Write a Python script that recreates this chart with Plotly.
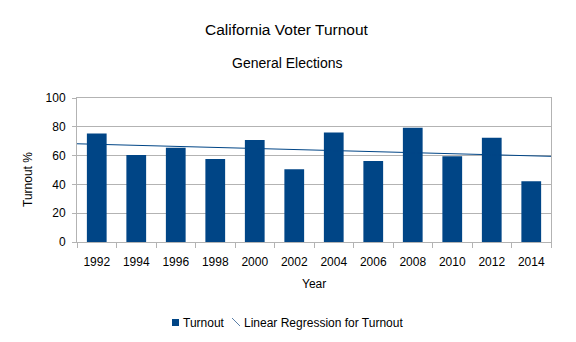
import numpy as np
import plotly.graph_objects as go

years = ["1992", "1994", "1996", "1998", "2000", "2002", "2004", "2006", "2008", "2010", "2012", "2014"]
turnout = [75.3, 60.5, 65.5, 57.6, 70.9, 50.6, 76.0, 56.2, 79.4, 59.6, 72.4, 42.2]
y_ticks = [0, 20, 40, 60, 80, 100]
series_names = ["Turnout", "Linear Regression for Turnout"]

idx = np.arange(len(years))
slope, intercept = np.polyfit(idx + 1, turnout, 1)
line_x = [idx[0] - 0.5, idx[-1] + 0.5]
line_y = [slope * (x + 1) + intercept for x in line_x]

BLUE = "#004586"
GRID = "#b3b3b3"
FONT = "Liberation Sans, Arial, sans-serif"

fig = go.Figure()
fig.add_trace(go.Bar(x=idx, y=turnout, name=series_names[0], width=0.5,
                     marker=dict(color=BLUE, line=dict(width=0))))
fig.add_trace(go.Scatter(x=line_x, y=line_y, mode="lines",
                         name=series_names[1],
                         line=dict(color=BLUE, width=1)))

fig.update_layout(
    width=576, height=342,
    margin=dict(l=77, r=25, t=98, b=100, autoexpand=False),
    paper_bgcolor="white", plot_bgcolor="white",
    font=dict(family=FONT, size=12, color="#000000"),
    showlegend=False,
    xaxis=dict(range=[-0.5, len(years) - 0.5], tickmode="array", tickvals=list(idx),
               ticktext=years, ticks="", showgrid=False, zeroline=False,
               showline=True, linecolor=GRID, linewidth=1, mirror=True,
               minor=dict(tickmode="linear", tick0=-0.5, dtick=1, ticks="outside",
                          ticklen=5, tickcolor=GRID, showgrid=False),
               ticklabelstandoff=9, tickfont=dict(size=12)),
    yaxis=dict(range=[0, 100], tickmode="array", tickvals=y_ticks, ticks="outside",
               ticklen=4, tickcolor=GRID, showgrid=True, gridcolor=GRID, gridwidth=1,
               zeroline=False, showline=True, linecolor=GRID, linewidth=1, mirror=True,
               ticklabelstandoff=4, tickfont=dict(size=12)),
)

def py(pix):
    return (242 - pix) / 144.0

def px(pix):
    return (pix - 77) / 474.0

fig.add_annotation(text="California Voter Turnout", xref="paper", yref="paper",
                   x=px(287), y=py(30), xanchor="center", yanchor="middle",
                   showarrow=False, font=dict(size=15.5))
fig.add_annotation(text="General Elections", xref="paper", yref="paper",
                   x=px(287), y=py(63), xanchor="center", yanchor="middle",
                   showarrow=False, font=dict(size=14))
fig.add_annotation(text="Year", xref="paper", yref="paper",
                   x=px(314), y=py(284), xanchor="center", yanchor="middle",
                   showarrow=False, font=dict(size=12))
fig.add_annotation(text="Turnout %", xref="paper", yref="paper", textangle=-90,
                   x=px(28), y=py(180), xanchor="center", yanchor="middle",
                   showarrow=False, font=dict(size=12))

# custom legend (swatches + labels)
fig.add_shape(type="rect", xref="paper", yref="paper",
              x0=px(172), x1=px(179), y0=py(326), y1=py(319),
              fillcolor=BLUE, line=dict(width=0))
fig.add_annotation(text=series_names[0], xref="paper", yref="paper",
                   x=px(181), y=py(322.5), xanchor="left", yanchor="middle",
                   showarrow=False, font=dict(size=12))
fig.add_shape(type="line", xref="paper", yref="paper",
              x0=px(232), x1=px(240), y0=py(318), y1=py(326),
              line=dict(color="#5a7fa8", width=1))
fig.add_annotation(text=series_names[1], xref="paper", yref="paper",
                   x=px(242), y=py(322.5), xanchor="left", yanchor="middle",
                   showarrow=False, font=dict(size=12))

fig.write_html("out.html")
